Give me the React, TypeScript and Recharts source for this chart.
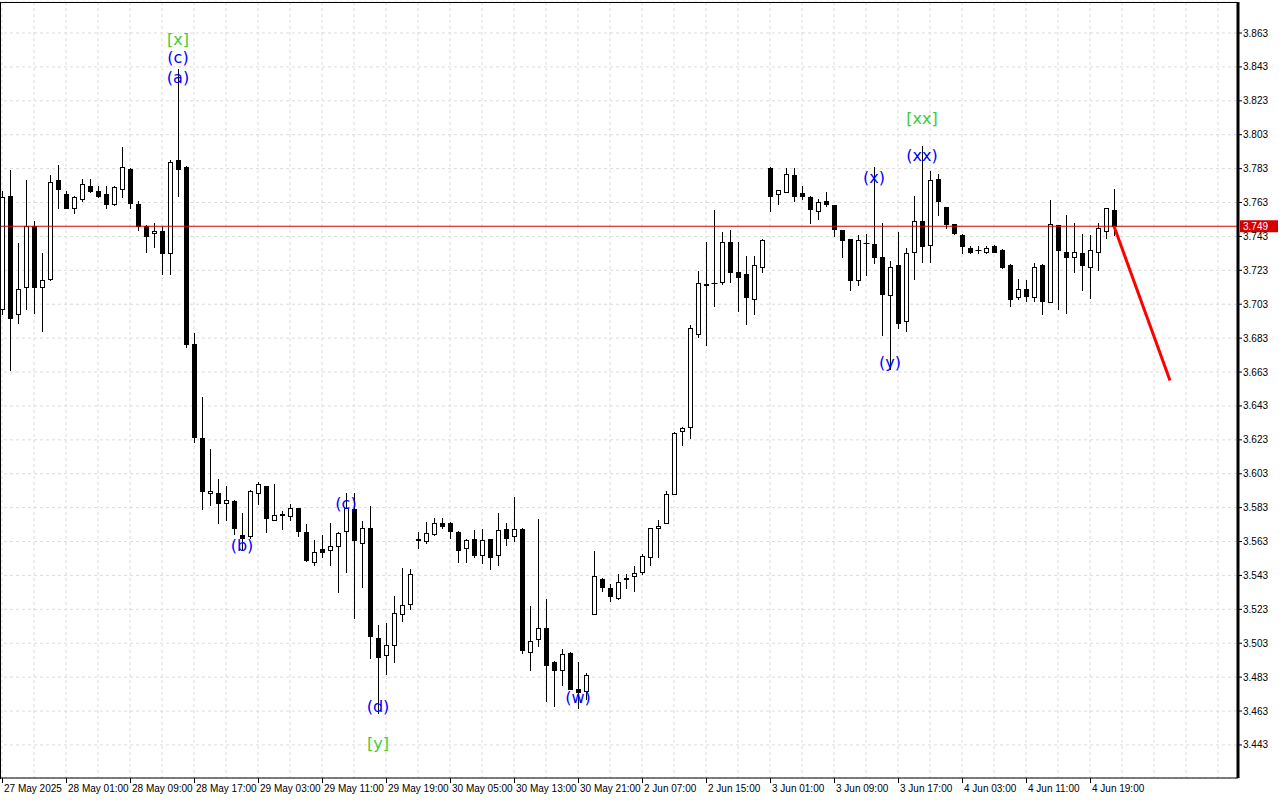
import React from 'react';
import { ComposedChart, Bar, Line, XAxis, YAxis, CartesianGrid, ReferenceLine, ReferenceDot } from 'recharts';

// trading sessions (hourly bars, 23:00 and 00:00 are closed)
const sessions = [
  { day: '27 May', first: 15, last: 22 },
  { day: '28 May', first: 1, last: 22 },
  { day: '29 May', first: 1, last: 22 },
  { day: '30 May', first: 1, last: 22 },
  { day: '2 Jun', first: 1, last: 22 },
  { day: '3 Jun', first: 1, last: 22 },
  { day: '4 Jun', first: 1, last: 22 },
];

const opens = [
  3.700, 3.767, 3.697, 3.713, 3.749, 3.713, 3.718, 3.776, 3.768, 3.760,
  3.765, 3.773, 3.770, 3.768, 3.762, 3.771, 3.783, 3.762, 3.749, 3.745,
  3.746, 3.733, 3.788, 3.784, 3.6797, 3.624, 3.5915, 3.5915, 3.5855, 3.587,
  3.5668, 3.566, 3.5915, 3.5956, 3.5756, 3.579, 3.5783, 3.5828, 3.5688, 3.5511,
  3.5584, 3.558, 3.5604, 3.5692, 3.5824, 3.5623, 3.5712, 3.5063, 3.4963, 3.5018,
  3.5204, 3.5264, 3.564, 3.5633, 3.5673, 3.5738, 3.5738, 3.5686, 3.5594, 3.5643,
  3.5553, 3.5643, 3.5553, 3.5706, 3.5663, 3.5706, 3.498, 3.5053, 3.5122, 3.4919,
  3.4872, 3.4974, 3.4762, 3.4748, 3.5205, 3.5411, 3.5353, 3.5294, 3.5414, 3.5424,
  3.5451, 3.5536, 3.5707, 3.5738, 3.5913, 3.6285, 3.6303, 3.6852, 3.7147, 3.7153,
  3.7164, 3.7395, 3.7222, 3.7206, 3.7063, 3.7252, 3.7836, 3.7682, 3.7694, 3.7795,
  3.7684, 3.7665, 3.758, 3.7637, 3.7614, 3.7466, 3.7413, 3.7173, 3.7393, 3.7383,
  3.7309, 3.7083, 3.7263, 3.6932, 3.7338, 3.7519, 3.7377, 3.7768, 3.7603, 3.7503,
  3.744, 3.7361, 3.7351, 3.7338, 3.7375, 3.7351, 3.7263, 3.7072, 3.7119, 3.7072,
  3.7263, 3.7044, 3.7496, 3.7341, 3.7311, 3.7335, 3.7252, 3.7341, 3.7463, 3.7585,
];

const highs = [
  3.770, 3.782, 3.739, 3.776, 3.752, 3.733, 3.779, 3.785, 3.770, 3.767,
  3.777, 3.777, 3.773, 3.773, 3.7725, 3.796, 3.7835, 3.764, 3.7495, 3.751,
  3.749, 3.788, 3.842, 3.7845, 3.686, 3.648, 3.6174, 3.600, 3.5956, 3.5875,
  3.5798, 3.5935, 3.598, 3.596, 3.597, 3.5812, 3.5853, 3.583, 3.5735, 3.5639,
  3.5667, 3.5738, 3.5685, 3.5915, 3.5915, 3.5751, 3.584, 3.5136, 3.5147, 3.5309,
  3.5476, 3.547, 3.5686, 3.5745, 3.5771, 3.5771, 3.5745, 3.569, 3.5645, 3.5696,
  3.5706, 3.5645, 3.5797, 3.5741, 3.5895, 3.5708, 3.525, 3.5765, 3.5293, 3.4925,
  3.4994, 3.4976, 3.4917, 3.4852, 3.5574, 3.5413, 3.5378, 3.5437, 3.5437, 3.5487,
  3.5555, 3.5708, 3.5758, 3.5927, 3.6274, 3.6303, 3.6907, 3.7227, 3.7399, 3.7585,
  3.7458, 3.7467, 3.7395, 3.7315, 3.7315, 3.7413, 3.7838, 3.7706, 3.7836, 3.7836,
  3.7728, 3.7667, 3.7649, 3.7694, 3.7616, 3.7468, 3.7415, 3.7437, 3.7442, 3.784,
  3.7511, 3.7285, 3.7454, 3.7361, 3.767, 3.7965, 3.7814, 3.780, 3.7605, 3.7505,
  3.7442, 3.7371, 3.7371, 3.7371, 3.7377, 3.7353, 3.7265, 3.7178, 3.7174, 3.7273,
  3.7265, 3.7644, 3.7498, 3.7555, 3.7508, 3.7443, 3.7437, 3.7508, 3.7595, 3.7709,
];

const lows = [
  3.697, 3.664, 3.692, 3.700, 3.698, 3.687, 3.717, 3.760, 3.7595, 3.757,
  3.764, 3.769, 3.766, 3.760, 3.7615, 3.766, 3.760, 3.747, 3.734, 3.737,
  3.721, 3.721, 3.767, 3.678, 3.6216, 3.582, 3.5845, 3.574, 3.5756, 3.5674,
  3.558, 3.565, 3.585, 3.5685, 3.5755, 3.5705, 3.5756, 3.5664, 3.5515, 3.549,
  3.5539, 3.549, 3.5332, 3.545, 3.518, 3.5364, 3.4945, 3.462, 3.4847, 3.492,
  3.5161, 3.523, 3.5594, 3.562, 3.5671, 3.5712, 3.5653, 3.551, 3.551, 3.5541,
  3.5505, 3.5466, 3.5494, 3.561, 3.5633, 3.4974, 3.4872, 3.5014, 3.4689, 3.466,
  3.4782, 3.476, 3.465, 3.4699, 3.5204, 3.5338, 3.528, 3.5293, 3.5353, 3.5339,
  3.5437, 3.5491, 3.5536, 3.5737, 3.5912, 3.6199, 3.6242, 3.6834, 3.6789, 3.7017,
  3.7149, 3.7163, 3.699, 3.6915, 3.6974, 3.722, 3.758, 3.762, 3.7693, 3.7639,
  3.7649, 3.7511, 3.7531, 3.761, 3.7433, 3.7311, 3.7114, 3.7144, 3.7203, 3.7275,
  3.6847, 3.6646, 3.6889, 3.6873, 3.7178, 3.7277, 3.7277, 3.7558, 3.7479, 3.7444,
  3.7332, 3.7332, 3.7332, 3.7332, 3.7336, 3.7243, 3.7021, 3.706, 3.7047, 3.7047,
  3.6972, 3.7043, 3.7001, 3.6981, 3.7221, 3.7115, 3.7064, 3.7233, 3.742, 3.7437,
];

const closes = [
  3.766, 3.695, 3.712, 3.749, 3.713, 3.717, 3.775, 3.771, 3.760, 3.766,
  3.774, 3.770, 3.767, 3.762, 3.772, 3.784, 3.763, 3.749, 3.743, 3.746,
  3.733, 3.787, 3.783, 3.6795, 3.6245, 3.5927, 3.5927, 3.5855, 3.5878, 3.571,
  3.5653, 3.593, 3.597, 3.5767, 3.5787, 3.5788, 3.5828, 3.5695, 3.5523, 3.557,
  3.557, 3.5604, 3.5682, 3.583, 3.5639, 3.5712, 3.5073, 3.4951, 3.5018, 3.521,
  3.5254, 3.5441, 3.5645, 3.5682, 3.5741, 3.5722, 3.5692, 3.558, 3.5639, 3.5553,
  3.5637, 3.5539, 3.5696, 3.5653, 3.5706, 3.499, 3.5043, 3.5122, 3.4902, 3.4872,
  3.4965, 3.4762, 3.4742, 3.4843, 3.5424, 3.5364, 3.5306, 3.5392, 3.5408, 3.5443,
  3.5542, 3.5707, 3.5723, 3.5913, 3.6273, 3.6297, 3.6887, 3.7153, 3.7145, 3.7155,
  3.7395, 3.7222, 3.7193, 3.7075, 3.7263, 3.7407, 3.7669, 3.7704, 3.780, 3.7669,
  3.7669, 3.759, 3.7635, 3.7623, 3.7476, 3.7409, 3.7173, 3.7407, 3.739, 3.7311,
  3.7092, 3.7252, 3.6919, 3.7332, 3.7519, 3.7371, 3.7764, 3.7637, 3.7503, 3.745,
  3.7375, 3.7338, 3.735, 3.7361, 3.7338, 3.7247, 3.706, 3.7119, 3.7076, 3.7249,
  3.7047, 3.7506, 3.7351, 3.7309, 3.7341, 3.7262, 3.7351, 3.7477, 3.7595, 3.7492,
];

const tickLabels = [
  '27 May 2025', '28 May 01:00', '28 May 09:00', '28 May 17:00', '29 May 03:00', '29 May 11:00',
  '29 May 19:00', '30 May 05:00', '30 May 13:00', '30 May 21:00', '2 Jun 07:00', '2 Jun 15:00',
  '3 Jun 01:00', '3 Jun 09:00', '3 Jun 17:00', '4 Jun 03:00', '4 Jun 11:00', '4 Jun 19:00',
];

const priceTicks = [
  3.443, 3.463, 3.483, 3.503, 3.523, 3.543, 3.563, 3.583, 3.603, 3.623, 3.643,
  3.663, 3.683, 3.703, 3.723, 3.743, 3.763, 3.783, 3.803, 3.823, 3.843, 3.863,
];

const lastPrice = 3.749;
const emptySlots = 15; // free space right of the last bar

// forecast arrow: from the last bar to the target
const forecastIdx = [139, 146];
const forecastPrice = [3.749, 3.658];

// wave marks: bar index, price level of the text, text, degree
const waveIdx = [22, 22, 22, 30, 43, 47, 47, 72, 109, 111, 115, 115];
const wavePrice = [3.8589, 3.8483, 3.837, 3.5609, 3.5857, 3.4659, 3.4441, 3.4707, 3.778, 3.6689, 3.8123, 3.791];
const waveText = ['[x]', '(c)', '(a)', '(b)', '(c)', '(d)', '[y]', '(w)', '(x)', '(y)', '[xx]', '(xx)'];
const waveMajor = [true, false, false, false, false, false, true, false, false, false, true, false];

const times: string[] = [];
sessions.forEach((s) => {
  for (let h = s.first; h <= s.last; h++) times.push(`${s.day} ${String(h).padStart(2, '0')}:00`);
});

const total = opens.length + emptySlots;
const rows = Array.from({ length: total }, (_, i) => {
  const has = i < opens.length;
  const f = forecastIdx.indexOf(i);
  return {
    i,
    time: times[i] ?? '',
    o: has ? opens[i] : null,
    h: has ? highs[i] : null,
    l: has ? lows[i] : null,
    c: has ? closes[i] : null,
    range: has ? [lows[i], highs[i]] : null,
    arrow: f >= 0 ? forecastPrice[f] : null,
  };
});

const xTicks = rows.filter((r) => r.i % 4 === 0).map((r) => r.i);

const Candle = (props: any) => {
  const { x, y, width, height, payload } = props;
  if (!payload || payload.o == null) return null;
  const { o, h, l, c } = payload;
  const cx = Math.round(x + width / 2) + 0.5;
  const top = Math.min(y, y + height);
  const span = Math.abs(height);
  const k = h - l > 0 ? span / (h - l) : 0;
  const yO = top + (h - o) * k;
  const yC = top + (h - c) * k;
  const bTop = Math.round(Math.min(yO, yC)) + 0.5;
  const bBot = Math.round(Math.max(yO, yC)) + 0.5;
  const up = c > o;
  return (
    <g>
      <line x1={cx} x2={cx} y1={Math.round(top)} y2={Math.round(top + span) + 1} stroke="#000" strokeWidth={1} />
      {bBot - bTop < 1 ? (
        <line x1={cx - 3} x2={cx + 3} y1={bTop} y2={bTop} stroke="#000" strokeWidth={1} />
      ) : (
        <rect x={cx - 2} y={bTop} width={4} height={bBot - bTop} fill={up ? '#fff' : '#000'} stroke="#000" strokeWidth={1} />
      )}
    </g>
  );
};

const TimeTick = (props: any) => {
  const { x, y, payload } = props;
  const i = payload.value;
  const n = i / 8;
  if (i % 8 !== 0 || n >= tickLabels.length) return null;
  const px = Math.round(x) + 0.5;
  return (
    <g>
      <line x1={px} x2={px} y1={y} y2={y + 5} stroke="#000" strokeWidth={1} />
      <text x={px + 1.5} y={y + 14} fontSize={10} fill="#000">{tickLabels[n]}</text>
    </g>
  );
};

const PriceBadge = (props: any) => {
  const { viewBox } = props;
  const x = viewBox.x + viewBox.width + 2;
  const y = viewBox.y;
  return (
    <g>
      <rect x={x} y={y - 6} width={38} height={12} fill="#d40000" />
      <text x={x + 3} y={y + 4} fontSize={10} fill="#fff">{lastPrice.toFixed(3)}</text>
    </g>
  );
};

export default function App() {
  return (
    <div style={{ position: 'absolute', left: -4, top: 0, width: 1284, height: 800, background: '#fff', fontFamily: '"Liberation Sans", Arial, sans-serif' }}>
      <ComposedChart width={1284} height={800} data={rows} margin={{ top: 2, right: 0, bottom: 0, left: 2 }}>
        <CartesianGrid stroke="#dcdcdc" strokeDasharray="3 3" />
        <XAxis
          dataKey="i"
          type="category"
          ticks={xTicks}
          interval={0}
          height={22}
          tickSize={0}
          tickMargin={0}
          tickLine={false}
          axisLine={{ stroke: '#000', strokeWidth: 1 }}
          tick={<TimeTick />}
        />
        <YAxis
          orientation="right"
          width={42}
          type="number"
          domain={[3.4235, 3.8813]}
          allowDataOverflow
          ticks={priceTicks}
          interval={0}
          tickFormatter={(v: number) => v.toFixed(3)}
          tick={{ fontSize: 10, fill: '#000' }}
          tickSize={4}
          tickMargin={1}
          tickLine={{ stroke: '#000' }}
          axisLine={{ stroke: '#000', strokeWidth: 3 }}
        />
        <ReferenceLine y={lastPrice} stroke="#d40000" strokeWidth={1} label={PriceBadge} />
        <Bar dataKey="range" shape={<Candle />} isAnimationActive={false} />
        <Line dataKey="arrow" stroke="#ff0000" strokeWidth={3} dot={false} connectNulls isAnimationActive={false} />
        {waveIdx.map((idx, k) => (
          <ReferenceDot
            key={k}
            x={idx}
            y={wavePrice[k]}
            r={0}
            shape={(p: any) => (
              <text
                x={p.cx}
                y={p.cy}
                textAnchor="middle"
                dominantBaseline="central"
                fontSize={16}
                fontFamily='"DejaVu Sans", sans-serif'
                fill={waveMajor[k] ? '#3ccc3c' : '#0000ff'}
              >
                {waveText[k]}
              </text>
            )}
          />
        ))}
      </ComposedChart>
      <div style={{ position: 'absolute', left: 4, top: 2, width: 1239, height: 777, borderLeft: '1px solid #000', borderTop: '1px solid #000', boxSizing: 'border-box', pointerEvents: 'none' }} />
    </div>
  );
}
